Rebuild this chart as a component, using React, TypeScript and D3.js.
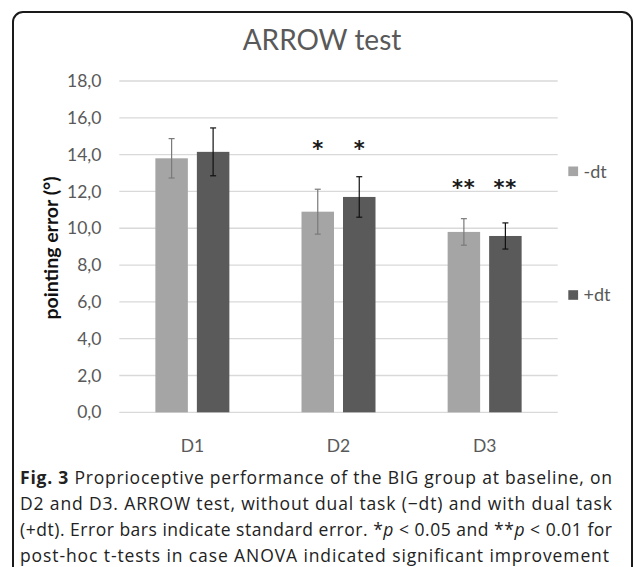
import React from "react";
import * as d3 from "d3";

const categories = ["D1", "D2", "D3"];
const seriesNames = ["-dt", "+dt"];
const meansMinus = [13.8, 10.9, 9.8];
const meansPlus = [14.15, 11.7, 9.58];
const seMinus = [1.07, 1.22, 0.72];
const sePlus = [1.3, 1.1, 0.71];
const stars = ["", "*", "**"];
const yTicks = [0, 2, 4, 6, 8, 10, 12, 14, 16, 18];

const W = 634;
const H = 567;
const LIGHT = "#a5a5a5";
const DARK = "#5a5a5a";
const TXT = "#595959";
const CHART_FONT = "Lato, 'Open Sans', sans-serif";
const CAP_FONT = "'Open Sans', 'Noto Sans', sans-serif";

export default function App() {
  const x0 = d3.scaleBand<string>().domain(categories).range([119.3, 557.7]).padding(0);
  const x1 = d3.scaleBand<string>().domain(seriesNames).range([-37, 37]).paddingInner(0.217).paddingOuter(0);
  const y = d3.scaleLinear().domain([0, 18]).range([412.3, 81]);

  const fmt = (v: number) => v.toFixed(1).replace(".", ",");

  const data = categories.map((c, i) => ({
    c,
    vals: [
      { s: seriesNames[0], m: meansMinus[i], se: seMinus[i], fill: LIGHT, err: "#7a7a7a" },
      { s: seriesNames[1], m: meansPlus[i], se: sePlus[i], fill: DARK, err: "#111" },
    ],
    star: stars[i],
  }));

  const capW = 3;

  return (
    <svg width={W} height={H} style={{ position: "absolute", left: 0, top: 0, background: "#fff" }}>
      <rect x={13} y={12} width={619} height={575} rx={10} ry={10} fill="#fff" stroke="#1a1a1a" strokeWidth={2} />
      <text x={322} y={50} textAnchor="middle" fontFamily={CHART_FONT} fontSize={28} fill={TXT}>
        ARROW test
      </text>
      {yTicks.map((t) => (
        <g key={t}>
          <line x1={119.3} x2={557.7} y1={y(t)} y2={y(t)} stroke="#d9d9d9" strokeWidth={1.3} />
          <text x={101.5} y={y(t)} dy="0.35em" textAnchor="end" fontFamily={CHART_FONT} fontSize={17.5} fill={TXT}>
            {fmt(t)}
          </text>
        </g>
      ))}
      <text
        transform={`translate(51,248) rotate(-90)`}
        textAnchor="middle"
        dy="0.35em"
        fontFamily={CHART_FONT}
        fontWeight="bold"
        fontSize={19.5}
        fill="#111"
      >
        pointing error (°)
      </text>
      {data.map((d) => {
        const cx = (x0(d.c) as number) + x0.bandwidth() / 2;
        return (
          <g key={d.c}>
            {d.vals.map((v) => {
              const bx = cx + (x1(v.s) as number);
              const bw = x1.bandwidth();
              const mx = bx + bw / 2;
              return (
                <g key={v.s}>
                  <rect x={bx} y={y(v.m)} width={bw} height={y(0) - y(v.m)} fill={v.fill} />
                  <line x1={mx} x2={mx} y1={y(v.m + v.se)} y2={y(v.m - v.se)} stroke={v.err} strokeWidth={1.2} />
                  <line x1={mx - capW} x2={mx + capW} y1={y(v.m + v.se)} y2={y(v.m + v.se)} stroke={v.err} strokeWidth={1.2} />
                  <line x1={mx - capW} x2={mx + capW} y1={y(v.m - v.se)} y2={y(v.m - v.se)} stroke={v.err} strokeWidth={1.2} />
                  {d.star && (
                    <text
                      x={mx}
                      y={d.star === "*" ? 142.7 : 181.7}
                      dy="0.62em"
                      textAnchor="middle"
                      fontFamily="'DejaVu Sans', sans-serif"
                      fontWeight="bold"
                      fontSize={21}
                      fill="#1a1a1a"
                      letterSpacing={d.star === "**" ? 1 : 0}
                    >
                      {d.star}
                    </text>
                  )}
                </g>
              );
            })}
            <text x={cx} y={446} dy="0.35em" textAnchor="middle" fontFamily={CHART_FONT} fontSize={17.5} fill={TXT}>
              {d.c}
            </text>
          </g>
        );
      })}
      {seriesNames.map((s, i) => {
        const ly = i === 0 ? 171.3 : 295;
        return (
          <g key={s}>
            <rect x={568.3} y={ly - 4.8} width={9.8} height={9.6} fill={i === 0 ? LIGHT : DARK} />
            <text x={583.5} y={ly} dy="0.35em" fontFamily={CHART_FONT} fontSize={18} fill={TXT}>
              {s}
            </text>
          </g>
        );
      })}
      <g fontFamily={CAP_FONT} fontSize={17.5} fill="#222">
        <text x={20} y={484} textLength={592} lengthAdjust="spacing">
          <tspan fontWeight="bold">Fig. 3</tspan> Proprioceptive performance of the BIG group at baseline, on
        </text>
        <text x={20} y={510} textLength={592} lengthAdjust="spacing">
          D2 and D3. ARROW test, without dual task (−dt) and with dual task
        </text>
        <text x={20} y={536} textLength={592} lengthAdjust="spacing">
          (+dt). Error bars indicate standard error. *<tspan fontStyle="italic">p</tspan> {"<"} 0.05 and **<tspan fontStyle="italic">p</tspan> {"<"} 0.01 for
        </text>
        <text x={20} y={562} textLength={589} lengthAdjust="spacing">
          post-hoc t-tests in case ANOVA indicated significant improvement
        </text>
      </g>
    </svg>
  );
}
